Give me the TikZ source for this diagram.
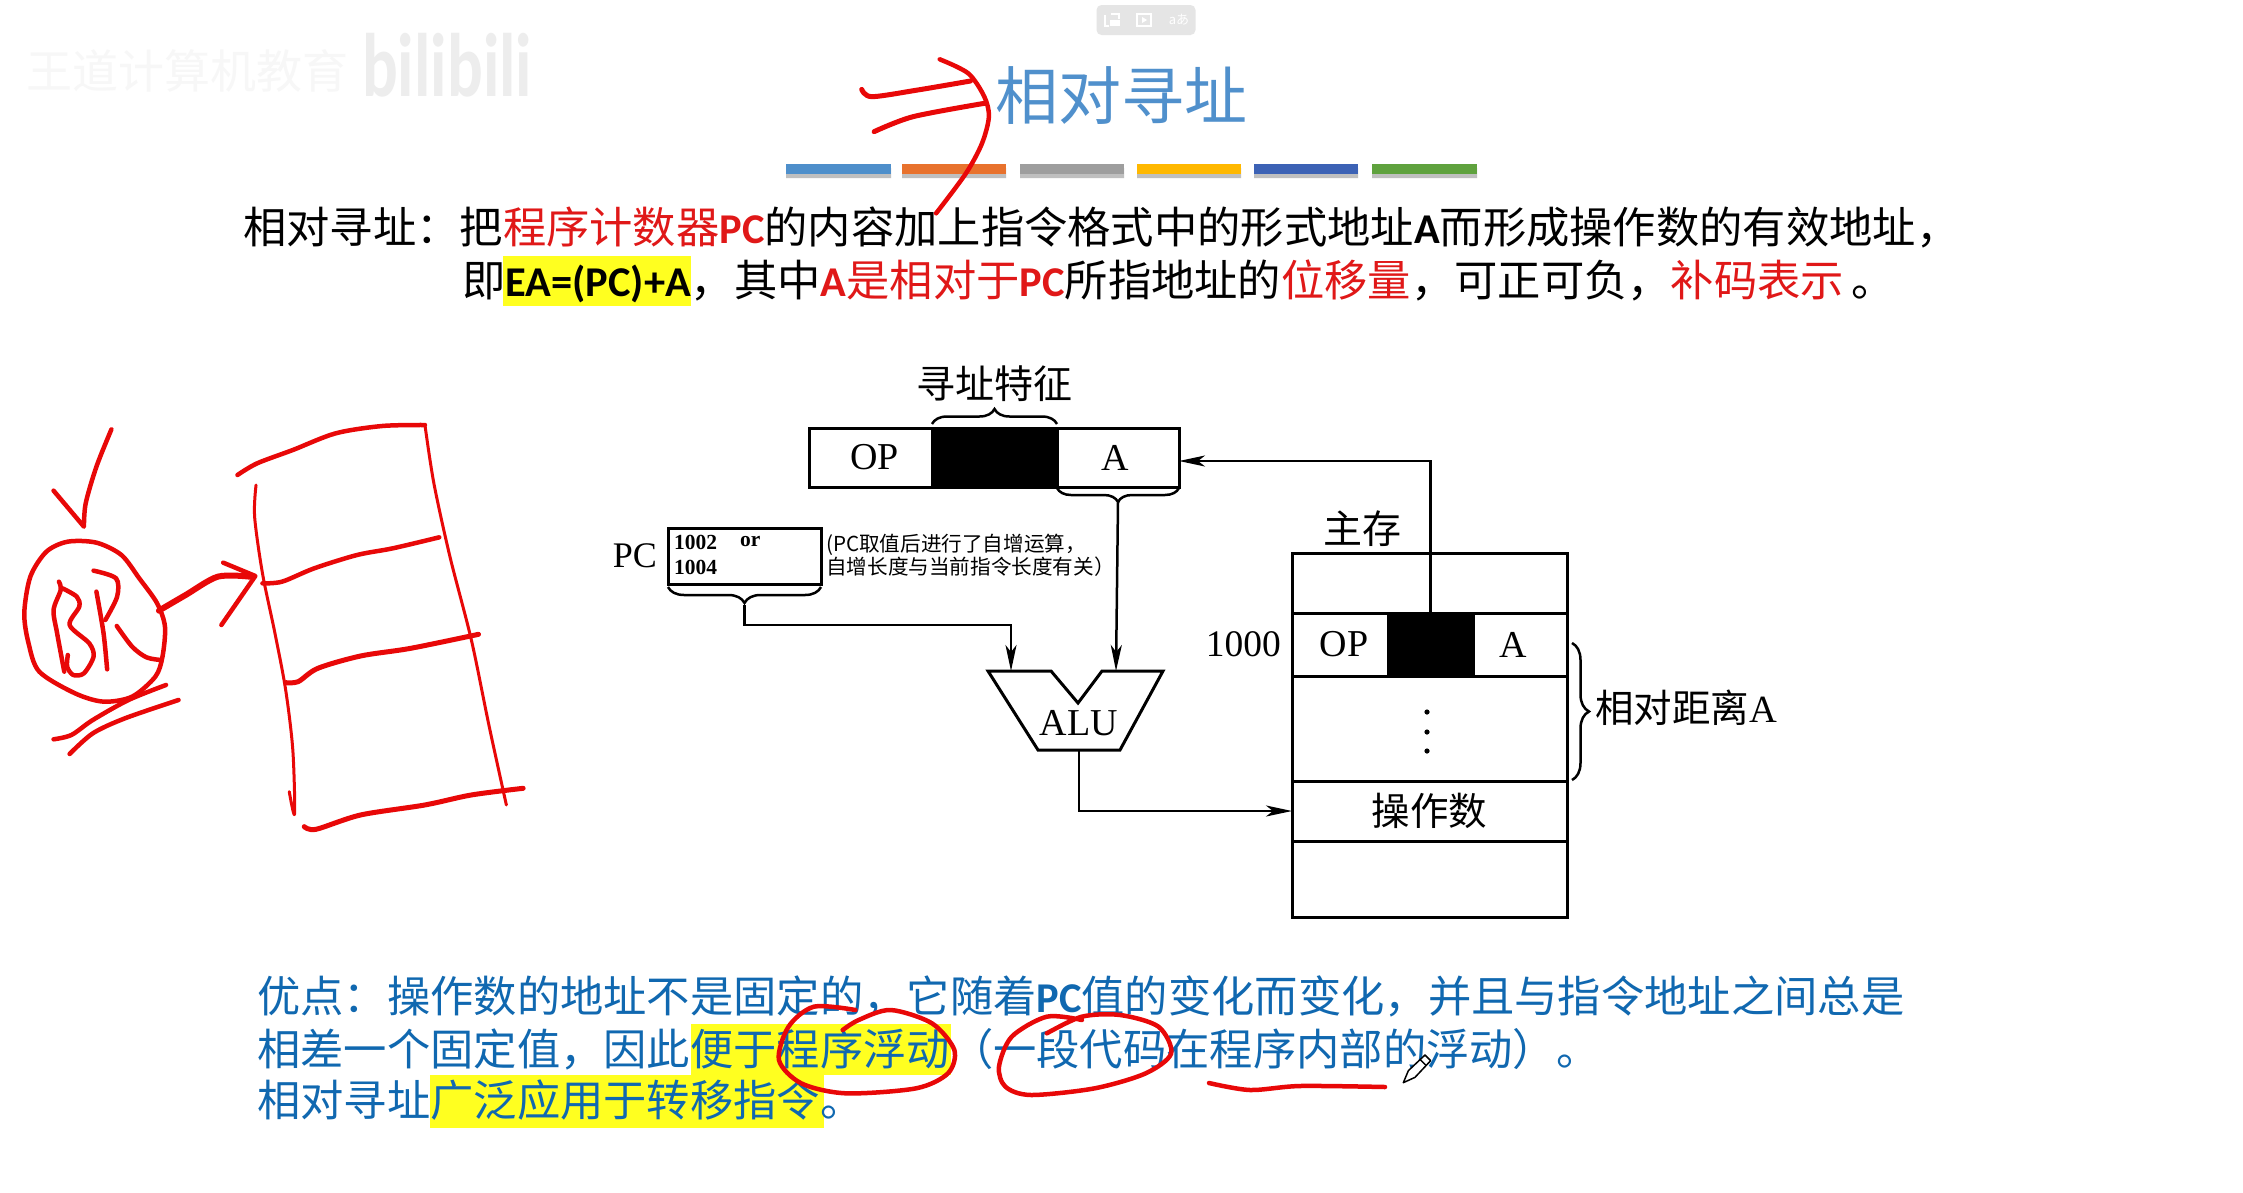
\documentclass[tikz,border=0pt]{standalone}
\usepackage{xcolor}
\usepackage{fontspec}
\setmainfont{Noto Sans CJK SC}
\newfontfamily\timesfont{Liberation Serif}
\newfontfamily\latfont[Scale=0.98]{Carlito}
\usepackage{tikz}
\usetikzlibrary{positioning, arrows.meta, decorations.pathreplacing}
\definecolor{redink}{HTML}{E80808}
\definecolor{bodyred}{HTML}{E01818}
\definecolor{bodyblue}{HTML}{1068B0}
\definecolor{titleblue}{HTML}{5090CC}
\definecolor{hilite}{HTML}{FFFF20}
\newcommand{\lat}[1]{{\latfont\bfseries #1}}
\newcommand{\rd}[1]{\textcolor{bodyred}{#1}}
\newcommand{\sz}[1]{\fontsize{#1}{#1}\selectfont}
\newcommand{\cel}[1]{\raisebox{-2pt}{#1}}

\begin{document}
\begin{tikzpicture}[x=1pt, y=-1pt,
    cellbox/.style={draw, line width=3pt, inner sep=0pt, outer sep=0pt, font=\timesfont\sz{38}},
    bodytxt/.style={anchor=base west, inner sep=0pt, font=\sz{43.3}},
    figtxt/.style={inner sep=0pt, font=\sz{39}},
    conn/.style={line width=2.5pt, -{Stealth[length=26pt, width=11pt, inset=7pt]}},
    bracestyle/.style={line width=2.5pt, decorate, decoration={brace, amplitude=15pt}},
    bar/.style={minimum height=10pt, inner sep=0pt, anchor=north west},
    ink/.style={redink, line width=4.5pt, line cap=round, line join=round}]
    \path[use as bounding box, fill=white] (0,0) rectangle (2243,1192);

    % watermark and toolbar
    \node[inner sep=0pt, anchor=west, text=black!3, font=\sz{46}] (wmark) at (26,71) {王道计算机教育};
    \node[inner sep=0pt, anchor=west, text=black!7, xscale=0.74, font=\latfont\bfseries\sz{92}] (bili) at (362,65) {bilibili};
    \node[fill=black!10, rounded corners=5pt, minimum width=99, minimum height=30, inner sep=0pt] (tools) at (1146,20) {};
    \fill[white] (1110,20) rectangle (1120,26);
    \draw[white, line width=1.5pt] (1111,14) -- (1119,14) -- (1119,19) (1105,15) -- (1105,26) -- (1109,26);
    \draw[white, line width=1.5pt] (1137,14) rectangle (1151,26);
    \fill[white] (1142,17) -- (1147,20) -- (1142,23) -- cycle;
    \node[inner sep=0pt, text=white, font=\sz{13}] (transl) at (1179,20) {aあ};

    % title and bars
    \node[inner sep=0pt, text=titleblue, font=\sz{63}] (title) at (1121,96) {相对寻址};
    \fill[black!25] (786,168) rectangle (891,178) (902,168) rectangle (1006,178) (1020,168) rectangle (1124,178)
        (1137,168) rectangle (1241,178) (1254,168) rectangle (1358,178) (1372,168) rectangle (1477,178);
    \node[bar, fill={rgb,255:red,78;green,143;blue,203}, minimum width=105] (bar1) at (786,164) {};
    \node[bar, fill={rgb,255:red,232;green,114;blue,45}, minimum width=104] (bar2) at (902,164) {};
    \node[bar, fill={rgb,255:red,158;green,158;blue,158}, minimum width=104] (bar3) at (1020,164) {};
    \node[bar, fill={rgb,255:red,255;green,184;blue,0}, minimum width=104] (bar4) at (1137,164) {};
    \node[bar, fill={rgb,255:red,60;green,98;blue,181}, minimum width=104] (bar5) at (1254,164) {};
    \node[bar, fill={rgb,255:red,95;green,162;blue,62}, minimum width=105] (bar6) at (1372,164) {};

    % highlights
    \fill[hilite] (503,256) rectangle (691,306);
    \fill[hilite] (691,1024) rectangle (951,1075);
    \fill[hilite] (430,1075) rectangle (824,1128);

    % text of the slide
    \node[bodytxt] (lineA) at (243,243) {相对寻址：把\rd{程序计数器\lat{PC}}的内容加上指令格式中的形式地址\lat{A}而形成操作数的有效地址，};
    \node[bodytxt] (lineB) at (462,296) {即\lat{EA=(PC)+A}，其中\rd{\lat{A}是相对于\lat{PC}}所指地址的\rd{位移量}，可正可负，\rd{补码表示}\,。};
    \node[bodytxt, text=bodyblue] (lineC) at (257,1012) {优点：操作数的地址不是固定的，它随着\lat{PC}值的变化而变化，并且与指令地址之间总是};
    \node[bodytxt, text=bodyblue] (lineD) at (257,1065) {相差一个固定值，因此便于程序浮动（一段代码在程序内部的浮动）。};
    \node[bodytxt, text=bodyblue] (lineE) at (257,1116) {相对寻址广泛应用于转移指令。};

    % instruction
    \node[cellbox, minimum width=123, minimum height=59, anchor=north west] (iop) at (809,428) {\kern8pt\cel{OP}};
    \node[cellbox, fill=black, minimum width=125, minimum height=59, right=0pt of iop] (iblk) {};
    \node[cellbox, minimum width=122, minimum height=59, right=0pt of iblk] (ia) {\cel{A}\kern6pt};
    \node[figtxt, above=26pt of iblk] (feat) {寻址特征};
    \draw[bracestyle] ([yshift=4pt]iblk.north west) -- ([yshift=4pt]iblk.north east);

    % PC
    \node[cellbox, minimum width=153, minimum height=56, anchor=north west] (pcbox) at (668,528) {};
    \node[inner sep=0pt, font=\timesfont\sz{36}, left=11pt of pcbox] (pclab) {PC};
    \node[inner sep=0pt, anchor=west, font=\timesfont\bfseries\sz{21.5}] (pcv) at (674,542) {1002};
    \node[inner sep=0pt, anchor=west, font=\timesfont\bfseries\sz{21.5}] (pcor) at (740,542) {or};
    \node[inner sep=0pt, anchor=west, font=\timesfont\bfseries\sz{21.5}] (pcw) at (674,567) {1004};
    \node[inner sep=0pt, anchor=west, font=\sz{20.6}] (noteA) at (826,545) {(PC取值后进行了自增运算，};
    \node[inner sep=0pt, anchor=west, font=\sz{20.6}] (noteB) at (826,567) {自增长度与当前指令长度有关）};
    \draw[bracestyle, decoration={amplitude=16pt}] ([yshift=-3pt]pcbox.south east) -- ([yshift=-3pt]pcbox.south west);
    \draw[bracestyle, decoration={amplitude=14pt}] ([yshift=-1pt]ia.south east) -- ([yshift=-1pt]ia.south west);

    % ALU
    \node[inner sep=0pt, font=\timesfont\sz{38}] (alu) at (1079,723) {ALU};
    \coordinate (aluin) at (1011,671);
    \coordinate (alub) at (1116,671);
    \coordinate (aluout) at (1079,750);
    \draw[line width=3pt, line join=miter] (988,671) -- (1051,671) -- (1078,703) -- (1102,671) -- (1163,671) -- (1120,750) -- (1038,750) -- cycle;

    % memory
    \node[cellbox, minimum width=275, minimum height=60, anchor=north west] (mtop) at (1292,553) {};
    \node[cellbox, minimum width=96, minimum height=63, below=0pt of mtop.south west, anchor=north west] (mop) {\kern8pt\cel{OP}};
    \node[cellbox, fill=black, minimum width=85, minimum height=63, right=0pt of mop] (mblk) {};
    \node[cellbox, minimum width=94, minimum height=63, right=0pt of mblk] (ma) {\cel{A}\kern14pt};
    \node[cellbox, minimum width=275, minimum height=105, below=0pt of mop.south west, anchor=north west] (mdots) {};
    \node[cellbox, minimum width=275, minimum height=60, below=0pt of mdots, font=\sz{38.5}] (mdata) {操作数};
    \node[cellbox, minimum width=275, minimum height=76, below=0pt of mdata] (mbot) {};
    \fill (1427,712) circle (2.6) (1427,732) circle (2.6) (1427,751) circle (2.6);
    \node[figtxt, above=6pt of mtop.north, xshift=-67pt] (mlab) {主存};
    \node[inner sep=0pt, font=\timesfont\sz{37.5}, left=11pt of mop] (maddr) {\cel{1000}};
    \draw[bracestyle, decoration={amplitude=17pt}] (1572,643) -- (1572,780);
    \node[inner sep=0pt, font=\sz{38.5}, anchor=west] (dist) at (1595,708) {相对距离\timesfont A};

    % connectors
    \coordinate (pctip) at ([yshift=-21pt]pcbox.south);
    \coordinate (atip) at ([yshift=-15pt]ia.south);
    \draw[conn] (pctip) -- ++(0,20) -| (aluin);
    \draw[conn] (atip) -- (alub);
    \draw[conn] (aluout) |- (mdata.west);
    \draw[conn] (mblk.north) |- ([yshift=-3.5pt]ia.east);

    % hand drawn marks, points as read off the crops
    \begin{scope}[shift={(0,400)}, x=0.3571pt, y=-0.3333pt]
        \draw[ink] plot[smooth] coordinates {(312,88) (270,200) (240,310) (235,380)} -- (150,272);
        \draw[ink] plot[smooth cycle] coordinates {(190,425) (270,428) (340,465) (390,535) (440,610) (462,680) (455,770) (435,830) (370,890) (290,905) (210,880) (110,815) (80,730) (68,640) (85,530) (130,455)};
        \draw[ink] plot[smooth] coordinates {(165,545) (170,570) (150,630) (160,700) (180,815)};
        \draw[ink] plot[smooth] coordinates {(175,565) (215,590) (222,620) (195,675) (250,730) (262,770) (235,820) (205,825) (188,800) (190,765)};
        \draw[ink] plot[smooth] coordinates {(262,512) (325,535) (328,590) (295,660)};
        \draw[ink] plot[smooth] coordinates {(270,575) (290,700) (300,808)};
        \draw[ink] plot[smooth] coordinates {(327,678) (370,740) (410,772) (450,780)};
        \draw[ink, line width=6pt] plot[smooth] coordinates {(445,632) (520,585) (610,530) (700,530)};
        \draw[ink] (625,488) -- (715,528) -- (620,675);
        \draw[ink] plot[smooth] coordinates {(465,855) (360,900) (260,960) (200,1005) (150,1018)};
        \draw[ink] plot[smooth] coordinates {(500,900) (350,955) (260,1000) (195,1062)};
        \draw[ink] plot[smooth] coordinates {(665,225) (720,190) (820,150) (940,100) (1070,78) (1190,75)};
        \draw[ink, line width=3pt] plot[smooth] coordinates {(1190,75) (1215,250) (1260,470) (1320,720) (1370,980) (1418,1215)};
        \draw[ink, line width=3pt] plot[smooth] coordinates {(717,255) (713,350) (735,520) (770,700) (800,870) (820,1050) (825,1242) (810,1175)};
        \draw[ink] plot[smooth] coordinates {(735,550) (790,545) (880,505) (1000,465) (1100,445) (1230,412)};
        \draw[ink, line width=5pt] plot[smooth] coordinates {(800,848) (835,845) (890,805) (1010,768) (1150,745) (1340,703)};
        \draw[ink, line width=5pt] plot[smooth] coordinates {(852,1280) (885,1288) (1010,1245) (1190,1215) (1320,1185) (1465,1165)};
    \end{scope}
    \begin{scope}[shift={(780,0)}, x=0.4591pt, y=-0.3333pt]
        \draw[ink] plot[smooth] coordinates {(348,178) (410,220) (445,290) (455,350) (440,430) (405,520) (340,640)};
        \draw[ink, line width=5pt] plot[smooth] coordinates {(178,268) (200,290) (300,270) (415,243)};
        \draw[ink, line width=5pt] plot[smooth] coordinates {(205,395) (290,350) (445,310)};
    \end{scope}
    \begin{scope}[shift={(240,960)}, x=0.6378pt, y=-0.3333pt]
        \draw[ink] plot[smooth] coordinates {(965,150) (900,140) (860,200) (845,300) (880,370) (950,400) (1060,385) (1110,340) (1120,270) (1085,190) (1020,150) (970,180) (945,210)};
        \draw[ink] plot[smooth] coordinates {(1320,180) (1265,170) (1210,230) (1190,320) (1200,380) (1240,405) (1340,385) (1420,340) (1460,280) (1440,200) (1380,165) (1320,170) (1265,220)};
    \end{scope}
    \draw[ink] plot[smooth] coordinates {(1209,1083) (1250,1090) (1300,1086) (1385,1087)};

    % pen cursor
    \begin{scope}[shift={(1340,1040)}, x=0.3333pt, y=-0.3333pt]
        \draw[fill=white, line width=1.5pt, line join=round] (190,128) -- (205,92) -- (255,45) -- (272,62) -- (225,112) -- cycle;
        \draw[line width=1.5pt] (240,58) -- (258,76);
    \end{scope}
\end{tikzpicture}
\end{document}
